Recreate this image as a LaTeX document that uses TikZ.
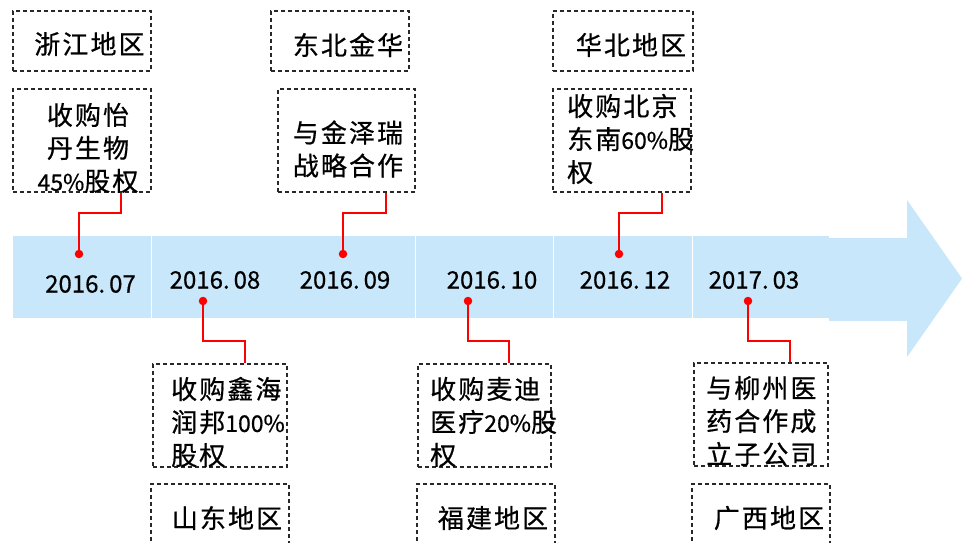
\documentclass[tikz,border=0pt]{standalone}
\usepackage{fontspec}
\newfontfamily\cjk{Noto Sans CJK SC}[FakeBold=0.6, LetterSpace=8]
\newfontfamily\cjkd{Noto Sans CJK SC}[FakeBold=0.6]
\newcommand\dgt[1]{{\cjkd\fontsize{23}{33}\selectfont #1}}
\definecolor{bandblue}{RGB}{200,231,250}
\definecolor{boxline}{RGB}{40,40,40}
\begin{document}
\begin{tikzpicture}[x=1pt,y=-1pt,
  box/.style={draw=boxline, dash pattern=on 4pt off 3pt, line width=1.1pt, inner sep=0pt},
  txt/.style={font=\cjk\fontsize{26}{33}\selectfont, inner sep=0pt, text=black},
  datetxt/.style={font=\cjkd\fontsize{24}{28}\selectfont, inner sep=0pt, text=black},
  conn/.style={draw=red, line width=1.5pt},
  rdot/.style={circle, fill=red, inner sep=0pt, minimum size=8.5pt},
  sep/.style={draw=white, line width=1.6pt}]
\clip (0,0) rectangle (963,542);
\fill[white] (0,0) rectangle (963,542);

% timeline band
\fill[bandblue] (13,236) rectangle (829,318);
\fill[bandblue] (829,238) rectangle (907,321);
\fill[bandblue] (907,200) -- (962,278.5) -- (907,357) -- cycle;
\draw[sep] (151.5,236) -- (151.5,318);
\draw[sep] (415.5,236) -- (415.5,318);
\draw[sep] (553.5,236) -- (553.5,318);
\draw[sep] (692.5,236) -- (692.5,318);

% dates
\node[datetxt] (d07) at (90.5,284) {2016.\,07};
\node[datetxt] (d08) at (215,280) {2016.\,08};
\node[datetxt] (d09) at (345,280) {2016.\,09};
\node[datetxt] (d10) at (492,280) {2016.\,10};
\node[datetxt] (d12) at (625,280) {2016.\,12};
\node[datetxt] (d03) at (754,280) {2017.\,03};

% boxes (top)
\node[box, minimum width=138pt, minimum height=60pt] (z1) at (82,41) {};
\node[box, minimum width=138pt, minimum height=103pt] (z2) at (82,140.5) {};
\node[box, minimum width=138pt, minimum height=60pt] (n1) at (340,41) {};
\node[box, minimum width=137pt, minimum height=103pt] (n2) at (346.5,140.5) {};
\node[box, minimum width=140pt, minimum height=60pt] (h1) at (623,41) {};
\node[box, minimum width=138pt, minimum height=103pt] (h2) at (622,140.5) {};
% boxes (bottom)
\node[box, minimum width=134pt, minimum height=103pt] (s1) at (220,415.5) {};
\node[box, minimum width=138pt, minimum height=70pt] (s2) at (220,519) {};
\node[box, minimum width=133pt, minimum height=103pt] (f1) at (484.5,415.5) {};
\node[box, minimum width=138pt, minimum height=70pt] (f2) at (486,519) {};
\node[box, minimum width=134pt, minimum height=103pt] (g1) at (761,414.5) {};
\node[box, minimum width=138pt, minimum height=70pt] (g2) at (761,519) {};

% texts
\node[txt] (tz1) at (89.5,44) {浙江地区};
\node[txt, align=center] (tz2) at (88,148) {收购怡\\丹生物\\\dgt{45\%}股权};
\node[txt] (tn1) at (348,45) {东北金华};
\node[txt, align=center] (tn2) at (348,149) {与金泽瑞\\战略合作};
\node[txt] (th1) at (631,45) {华北地区};
\node[txt, align=left, anchor=west] (th2) at (567,139) {收购北京\\东南\dgt{60\%}股\\权};
\node[txt, align=left, anchor=west] (ts1) at (171,422) {收购鑫海\\润邦\dgt{100\%}\\股权};
\node[txt] (ts2) at (227,518) {山东地区};
\node[txt, align=left, anchor=west] (tf1) at (430,422) {收购麦迪\\医疗\dgt{20\%}股\\权};
\node[txt] (tf2) at (493,518) {福建地区};
\node[txt, align=left, anchor=west] (tg1) at (706,421) {与柳州医\\药合作成\\立子公司};
\node[txt] (tg2) at (769,518) {广西地区};

% connectors
\coordinate (k07) at (121,213);
\coordinate (k09) at (386,213);
\coordinate (k12) at (662,213);
\coordinate (k08) at (245,341);
\coordinate (k10) at (509,341);
\coordinate (k03) at (790,341);
\coordinate (p07) at (79,254);
\coordinate (p09) at (343,254);
\coordinate (p12) at (619,254);
\coordinate (p08) at (203,301);
\coordinate (p10) at (468,301);
\coordinate (p03) at (748,301);
\draw[conn] (p07) |- (k07) -- (k07 |- z2.south);
\draw[conn] (p09) |- (k09) -- (k09 |- n2.south);
\draw[conn] (p12) |- (k12) -- (k12 |- h2.south);
\draw[conn] (p08) |- (k08) -- (k08 |- s1.north);
\draw[conn] (p10) |- (k10) -- (k10 |- f1.north);
\draw[conn] (p03) |- (k03) -- (k03 |- g1.north);
\node[rdot] (r07) at (p07) {};
\node[rdot] (r09) at (p09) {};
\node[rdot] (r12) at (p12) {};
\node[rdot] (r08) at (p08) {};
\node[rdot] (r10) at (p10) {};
\node[rdot] (r03) at (p03) {};
\end{tikzpicture}
\end{document}
